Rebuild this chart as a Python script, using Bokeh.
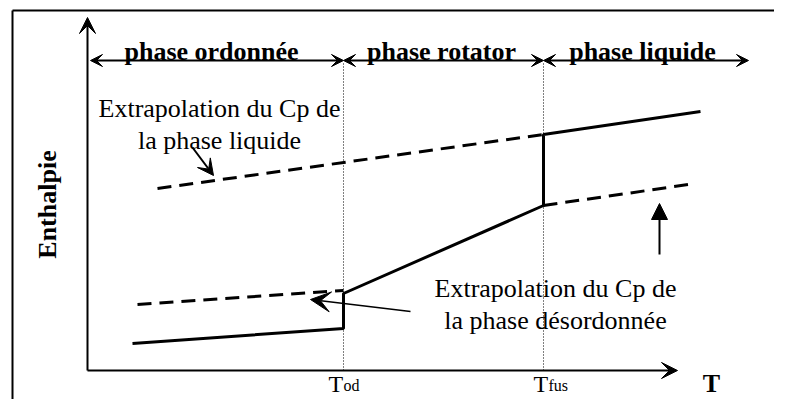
from bokeh.plotting import figure
from bokeh.models import Range1d, Arrow, VeeHead, NormalHead
from bokeh.core.properties import value
from bokeh.embed import file_html
from bokeh.resources import INLINE
import math

# ---- schematic data (T, H in arbitrary units) ----
T_od = 256
T_fus = 456

# enthalpy curve (solid): ordered phase, jump at T_od, rotator phase, jump at T_fus, liquid
curve_T = [45, 256, 256, 456, 456, 613]
curve_H = [27, 42, 77, 165, 236, 259]

# extrapolations (dashed)
extrap_dis_T = [50, 256]      # Cp of disordered phase, extrapolated below T_od
extrap_dis_H = [66, 80]
extrap_liq_T = [70, 456]      # Cp of liquid phase, extrapolated below T_fus
extrap_liq_H = [182, 236]
extrap_rot_T = [456, 608]     # Cp of rotator phase, extrapolated above T_fus
extrap_rot_H = [165, 187]

phase_labels = ["phase ordonnée", "phase rotator", "phase liquide"]
phase_bounds = [3, 256, 456, 661]
phase_label_x = [124, 354, 555]

tick_labels = ["T", "T"]
tick_subs = ["od", "fus"]

FONT = value("Liberation Serif")

p = figure(width=774, height=399, x_range=Range1d(-87, 687), y_range=Range1d(-29, 370),
           output_backend="svg", toolbar_location=None, x_axis_type=None, y_axis_type=None,
           min_border=0, outline_line_color=None, background_fill_color="white",
           border_fill_color="white")
p.grid.visible = False

# outer frame (left and top)
p.line([-75, -75], [360, -60], line_color="black", line_width=2)
p.line([-75, 710], [360, 360], line_color="black", line_width=2)

# axes with arrows
p.add_layout(Arrow(x_start=0, y_start=0, x_end=0, y_end=353, line_width=2,
                   end=VeeHead(size=16, fill_color="black", line_color="black")))
p.add_layout(Arrow(x_start=0, y_start=0, x_end=590, y_end=0, line_width=2,
                   end=VeeHead(size=16, fill_color="black", line_color="black")))

# dotted vertical transition lines
for t in [T_od, T_fus]:
    p.line([t, t], [0, 308], line_color="black", line_width=1, line_dash="1 2")

# phase double arrows
y_ph = 310
for i in range(3):
    p.add_layout(Arrow(x_start=phase_bounds[i], y_start=y_ph, x_end=phase_bounds[i + 1], y_end=y_ph,
                       line_width=2,
                       start=VeeHead(size=12, fill_color="black", line_color="black"),
                       end=VeeHead(size=12, fill_color="black", line_color="black")))
    p.text(x=[phase_label_x[i]], y=[319], text=[phase_labels[i]], text_font=FONT,
           text_font_style="bold", text_font_size="26px", text_align="center",
           text_baseline="alphabetic", text_color="black")

# curves
p.line(curve_T, curve_H, line_color="black", line_width=3)
p.line(extrap_dis_T, extrap_dis_H, line_color="black", line_width=3, line_dash="14 8")
p.line(extrap_liq_T, extrap_liq_H, line_color="black", line_width=3, line_dash="14 8")
p.line(extrap_rot_T, extrap_rot_H, line_color="black", line_width=3, line_dash="14 8")

# annotation labels
p.text(x=[132, 132], y=[262, 230], text=["Extrapolation du Cp de", "la phase liquide"],
       text_font=FONT, text_font_size="26px", text_align="center", text_baseline="alphabetic",
       text_color="black")
p.text(x=[468, 468], y=[82, 50], text=["Extrapolation du Cp de", "la phase désordonnée"],
       text_font=FONT, text_font_size="26px", text_align="center", text_baseline="alphabetic",
       text_color="black")

# pointer arrows
p.add_layout(Arrow(x_start=105, y_start=223, x_end=126, y_end=195, line_width=2,
                   end=VeeHead(size=16, fill_color="black", line_color="black")))
p.add_layout(Arrow(x_start=572, y_start=116, x_end=572, y_end=167, line_width=2,
                   end=NormalHead(size=16, fill_color="black", line_color="black")))
p.add_layout(Arrow(x_start=323, y_start=59, x_end=223, y_end=71, line_width=1.5,
                   end=VeeHead(size=20, fill_color="black", line_color="black")))

# axis labels
p.text(x=[-40], y=[166], text=["Enthalpie"], angle=math.pi / 2, text_font=FONT,
       text_font_style="bold", text_font_size="26px", text_align="center",
       text_baseline="middle", text_color="black")
p.text(x=[624], y=[-13], text=["T"], text_font=FONT, text_font_style="bold",
       text_font_size="26px", text_align="center", text_baseline="alphabetic", text_color="black")

# transition temperature tick labels (kept fully inside the canvas)
p.text(x=[241, 446], y=[-13, -13], text=tick_labels, text_font=FONT, text_font_size="24px",
       text_align="left", text_baseline="alphabetic", text_color="black")
p.text(x=[256, 461], y=[-15, -15], text=tick_subs, text_font=FONT, text_font_size="16px",
       text_align="left", text_baseline="alphabetic", text_color="black")

open("out.html", "w").write(file_html(p, INLINE))
